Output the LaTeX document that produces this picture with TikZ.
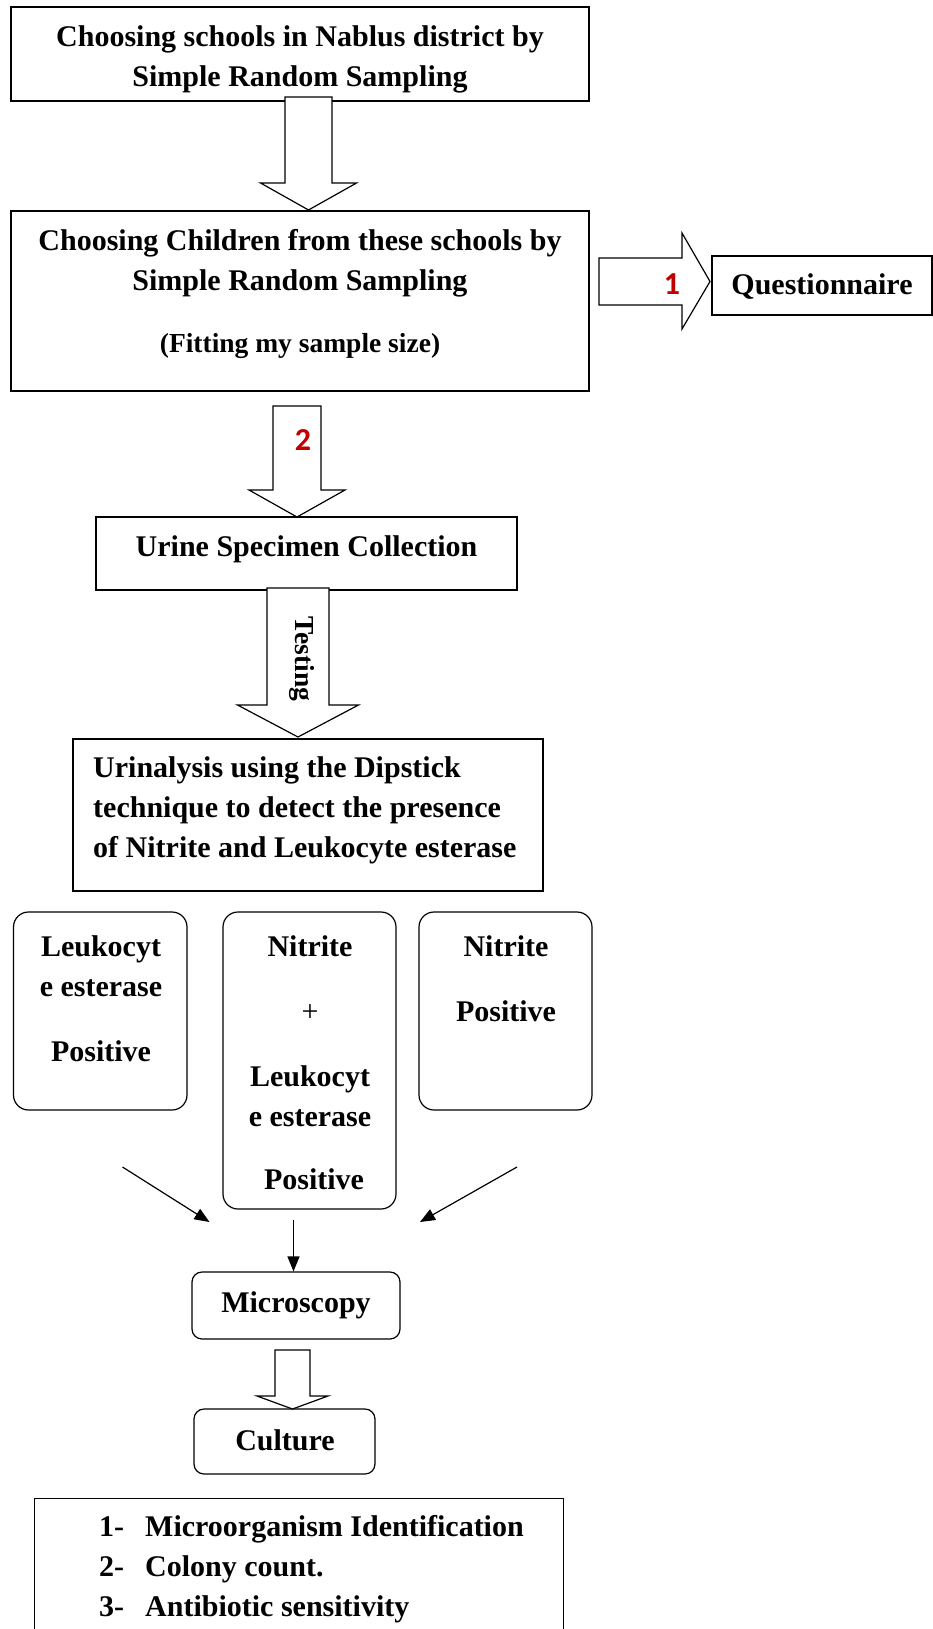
\documentclass[tikz,border=0pt]{standalone}
\usepackage{fontspec}
\setmainfont{Liberation Serif}
\newfontfamily\numfont{Carlito}
\usetikzlibrary{arrows.meta}
\definecolor{numred}{HTML}{C00000}
\newcommand\DownBlock[6]{% xc, shaft half, head half, top, base, tip
  \draw[blockarrow] (#1-#2,#4) -- (#1+#2,#4) -- (#1+#2,#5) -- (#1+#3,#5) -- (#1,#6) -- (#1-#3,#5) -- (#1-#2,#5) -- cycle;}
\begin{document}
\begin{tikzpicture}[x=1pt,y=-1pt,
  font=\fontsize{30}{40}\selectfont\bfseries,
  sqbox/.style={draw, rectangle, inner sep=0pt, line width=1.2pt},
  rbox/.style={draw, rectangle, rounded corners=15pt, inner sep=0pt, line width=1.2pt},
  txt/.style={inner sep=0pt, align=center},
  smalltxt/.style={inner sep=0pt, align=center, font=\fontsize{27.5}{34}\selectfont\bfseries},
  blockarrow/.style={draw, fill=white, line width=1.2pt, line join=miter},
  thinarrow/.style={-{Triangle[length=15pt,width=12pt]}, line width=1.2pt},
  rednum/.style={inner sep=0pt, text=numred, font=\numfont\bfseries\fontsize{32}{38}\selectfont}]
\useasboundingbox (0,0) rectangle (933,1629);
\fill[white] (0,0) rectangle (933,1629);

% boxes
\node[sqbox, minimum width=578pt, minimum height=94pt] (b1) at (300,54) {};
\node[txt] at (300,59) {Choosing schools in Nablus district by\\Simple Random Sampling};

\node[sqbox, minimum width=578pt, minimum height=180pt] (b2) at (300,301) {};
\node[txt] at (300,263) {Choosing Children from these schools by\\Simple Random Sampling};
\node[smalltxt] at (300,346) {(Fitting my sample size)};

\node[sqbox, minimum width=220pt, minimum height=59pt] (q) at (822,285.5) {};
\node[txt] at (822,287) {Questionnaire};

\node[sqbox, minimum width=421pt, minimum height=73pt] (u) at (306.5,553.5) {};
\node[txt] at (306.5,549) {Urine Specimen Collection};

\node[sqbox, minimum width=470pt, minimum height=152pt] (ua) at (308,815) {};
\node[inner sep=0pt, align=left, anchor=west] at (93,810) {Urinalysis using the Dipstick\\technique to detect the presence\\of Nitrite and Leukocyte esterase};

\node[rbox, minimum width=173.5pt, minimum height=198pt] (le) at (100.25,1011) {};
\node[txt, anchor=north] at (101,935) {Leukocyt\\e esterase\\[25pt]Positive};

\node[rbox, minimum width=173pt, minimum height=297pt] (nl) at (309.5,1060.5) {};
\node[txt, anchor=north] at (310,935) {Nitrite\\[25pt]{\mdseries +}\\[25pt]Leukocyt\\e esterase\\[23pt]\hspace*{8pt}Positive};

\node[rbox, minimum width=173pt, minimum height=198pt] (np) at (505.5,1011) {};
\node[txt, anchor=north] at (506,935) {Nitrite\\[25pt]Positive};

\node[rbox, minimum width=208pt, minimum height=67pt, rounded corners=10pt] (mic) at (296,1305.5) {};
\node[txt] at (296,1305) {Microscopy};

\node[rbox, minimum width=181pt, minimum height=65pt, rounded corners=10pt] (cul) at (284.5,1441.5) {};
\node[txt] at (285,1440.5) {Culture};

\node[sqbox, minimum width=529pt, minimum height=160pt, anchor=north west] (res) at (34,1498) {};
\node[inner sep=0pt, anchor=north west] at (99,1508) {%
  \begin{tabular}{@{}l@{\hspace{21pt}}l@{}}
  1- & Microorganism Identification\\
  2- & Colony count.\\
  3- & Antibiotic sensitivity
  \end{tabular}};

% block arrows
\DownBlock{308.5}{23.5}{48}{97}{183}{210}
\DownBlock{297}{24}{48}{406}{490}{517}
\DownBlock{298}{31}{60.5}{588}{705}{737}
\DownBlock{292.5}{17.5}{35.5}{1350}{1396}{1409}
\draw[blockarrow] (599,258) -- (682,258) -- (682,233) -- (710,281.5) -- (682,329) -- (682,305) -- (599,305) -- cycle;

\node[rednum] at (672,284) {1};
\node[rednum] at (303,440) {2};
\node[inner sep=0pt, rotate=-90, font=\fontsize{27.5}{34}\selectfont\bfseries] at (302,659) {Testing};

% thin arrows
\coordinate (la1) at (122.5,1167);
\coordinate (la2) at (209.5,1222);
\coordinate (ra1) at (517,1167);
\coordinate (ra2) at (420,1222);
\coordinate (ma1) at (293.5,1220);
\draw[thinarrow] (la1) -- (la2);
\draw[thinarrow] (ra1) -- (ra2);
\draw[thinarrow] (ma1) -- (ma1 |- mic.north);
\end{tikzpicture}
\end{document}
